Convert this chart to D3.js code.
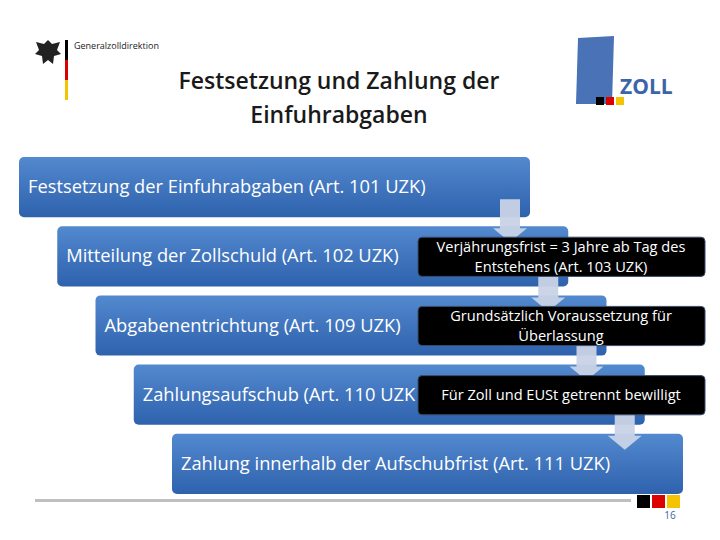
<!DOCTYPE html>
<html><head><meta charset="utf-8">
<script src="https://cdn.jsdelivr.net/npm/d3@7"></script>
<style>body{margin:0;background:#fff}</style>
</head><body>
<script>
// the steps, top to bottom
var steps = [
  "Festsetzung der Einfuhrabgaben (Art. 101 UZK)",
  "Mitteilung der Zollschuld (Art. 102 UZK)",
  "Abgabenentrichtung (Art. 109 UZK)",
  "Zahlungsaufschub (Art. 110 UZK",
  "Zahlung innerhalb der Aufschubfrist (Art. 111 UZK)"
];
// notes beside steps 1..3 (index into steps)
var noteStep = [1, 2, 3];
var notes = [
  ["Verjährungsfrist = 3 Jahre ab Tag des", "Entstehens (Art. 103 UZK)"],
  ["Grundsätzlich Voraussetzung für", "Überlassung"],
  ["Für Zoll und EUSt getrennt bewilligt"]
];

var W = 720, H = 540;
var svg = d3.select("body").append("svg").attr("width", W).attr("height", H)
  .style("font-family", "'Open Sans', sans-serif");

var defs = svg.append("defs");
var g = defs.append("linearGradient").attr("id", "blue").attr("x1", 0).attr("y1", 0).attr("x2", 0).attr("y2", 1);
g.append("stop").attr("offset", "0").attr("stop-color", "#5389cf");
g.append("stop").attr("offset", "1").attr("stop-color", "#2e62ad");

// staircase positions
var y = d3.scaleBand().domain(d3.range(steps.length)).range([157, 494]).paddingInner(0.13);
var x = d3.scaleLinear().domain([0, steps.length - 1]).range([19, 172]);
var boxW = 511;

var box = svg.selectAll(".step").data(steps).enter().append("g");
box.append("rect")
  .attr("x", function (d, i) { return x(i); })
  .attr("y", function (d, i) { return y(i); })
  .attr("width", boxW).attr("height", y.bandwidth())
  .attr("rx", 5).attr("fill", "url(#blue)");
box.append("text")
  .attr("x", function (d, i) { return x(i) + 9; })
  .attr("y", function (d, i) { return y(i) + y.bandwidth() / 2 + 6; })
  .attr("fill", "#fff").attr("font-size", 18.3).text(function (d) { return d; });

// arrows between boxes
steps.slice(1).forEach(function (s, i) {
  var cx = x(i) + boxW - 20, top = y(i) + y.bandwidth() - 18, bot = y(i + 1) + 16;
  svg.append("path")
    .attr("d", "M" + (cx - 10) + "," + top + "H" + (cx + 10) + "V" + (bot - 14) + "H" + (cx + 17) +
      "L" + cx + "," + bot + "L" + (cx - 17) + "," + (bot - 14) + "H" + (cx - 10) + "Z")
    .attr("fill", "#c8d3e6").attr("opacity", 0.95);
});

// black note boxes
notes.forEach(function (n, k) {
  var i = noteStep[k], by = y(i) + 11, bh = y.bandwidth() - 21;
  svg.append("rect").attr("x", 418).attr("y", by).attr("width", 287).attr("height", bh)
    .attr("rx", 4).attr("fill", "#000").attr("stroke", "#3a4f6e").attr("stroke-width", 1);
  var t = svg.append("text").attr("fill", "#fff").attr("font-size", 14.6).attr("text-anchor", "middle");
  n.forEach(function (line, j) {
    t.append("tspan").attr("x", 561)
      .attr("y", by + bh / 2 + 5 + (j - (n.length - 1) / 2) * 20).text(line);
  });
});

// title
svg.append("text").attr("x", 339).attr("y", 89).attr("text-anchor", "middle")
  .attr("font-size", 23).attr("font-weight", 600).attr("fill", "#1a1a1a").text("Festsetzung und Zahlung der");
svg.append("text").attr("x", 339).attr("y", 123).attr("text-anchor", "middle")
  .attr("font-size", 23).attr("font-weight", 600).attr("fill", "#1a1a1a").text("Einfuhrabgaben");

// header logo left
svg.append("rect").attr("x", 65).attr("y", 40).attr("width", 3).attr("height", 20).attr("fill", "#000");
svg.append("rect").attr("x", 65).attr("y", 60).attr("width", 3).attr("height", 20).attr("fill", "#d00");
svg.append("rect").attr("x", 65).attr("y", 80).attr("width", 3).attr("height", 20).attr("fill", "#f5c400");
svg.append("text").attr("x", 74).attr("y", 49).attr("font-size", 9).attr("fill", "#222").text("Generalzolldirektion");
svg.append("path").attr("d", "M48,40 l4,4 l8,-2 l-3,8 l4,4 l-7,2 l-1,8 l-5,-4 l-5,4 l-1,-8 l-7,-2 l4,-4 l-3,-8 l8,2 z")
  .attr("fill", "#222");

// ZOLL logo right
svg.append("path").attr("d", "M578,38 L614,36 L612,104 L576,104 Z").attr("fill", "#4a72b6");
svg.append("text").attr("x", 620).attr("y", 94).attr("font-size", 21).attr("font-weight", "bold")
  .attr("fill", "#3c64a8").text("ZOLL");
svg.append("rect").attr("x", 596).attr("y", 97).attr("width", 8).attr("height", 8).attr("fill", "#000");
svg.append("rect").attr("x", 606).attr("y", 97).attr("width", 8).attr("height", 8).attr("fill", "#d00");
svg.append("rect").attr("x", 616).attr("y", 97).attr("width", 8).attr("height", 8).attr("fill", "#f5c400");

// footer
svg.append("rect").attr("x", 35).attr("y", 499).attr("width", 596).attr("height", 3).attr("fill", "#bfbfbf");
[["#000", 637], ["#d00", 652], ["#f5c400", 667]].forEach(function (c) {
  svg.append("rect").attr("x", c[1]).attr("y", 495).attr("width", 13).attr("height", 13).attr("fill", c[0]);
});
svg.append("text").attr("x", 670).attr("y", 519).attr("text-anchor", "middle").attr("font-size", 10)
  .attr("fill", "#3c64a8").text("16");
</script>
</body></html>
